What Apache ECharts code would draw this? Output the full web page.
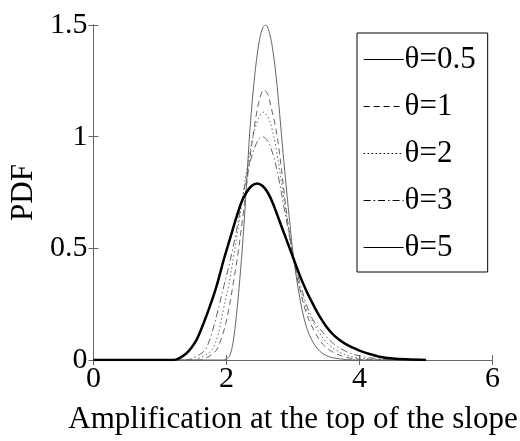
<!DOCTYPE html>
<html>
<head>
<meta charset="utf-8">
<script src="https://cdn.jsdelivr.net/npm/echarts@6/dist/echarts.min.js"></script>
<style>
html,body{margin:0;padding:0;background:#fff;}
#c{width:520px;height:441px;}
</style>
</head>
<body>
<div id="c"></div>
<script>
var seriesNames = ['\u03b8=0.5', '\u03b8=1', '\u03b8=2', '\u03b8=3', '\u03b8=5'];
var xTicks = [0, 2, 4, 6];
var yTicks = [0, 0.5, 1, 1.5];

var x05 = [0.5, 1.95, 2.0, 2.05, 2.1, 2.15, 2.2, 2.25, 2.3, 2.35, 2.4, 2.45, 2.5, 2.55, 2.59, 2.65, 2.7, 2.75, 2.8, 2.85, 2.9, 2.95, 3.0, 3.1, 3.2, 3.3, 3.4, 3.5, 3.6, 3.8, 4.0, 5.0];
var y05 = [0, 0, 0.005, 0.02, 0.08, 0.2, 0.36, 0.55, 0.78, 1.02, 1.2, 1.34, 1.44, 1.49, 1.5, 1.46, 1.38, 1.26, 1.1, 0.93, 0.77, 0.62, 0.48, 0.28, 0.15, 0.08, 0.04, 0.02, 0.01, 0.002, 0, 0];

var x1 = [0.5, 1.6, 1.7, 1.8, 1.86, 1.95, 2.03, 2.1, 2.16, 2.25, 2.35, 2.45, 2.5, 2.56, 2.62, 2.68, 2.74, 2.8, 2.89, 2.95, 3.0, 3.1, 3.2, 3.32, 3.45, 3.6, 3.8, 4.0, 4.3, 5.0];
var y1 = [0, 0, 0.01, 0.03, 0.05, 0.12, 0.22, 0.34, 0.45, 0.65, 0.9, 1.1, 1.17, 1.21, 1.19, 1.12, 1.04, 0.92, 0.69, 0.56, 0.46, 0.32, 0.21, 0.13, 0.07, 0.035, 0.012, 0.004, 0, 0];

var x2 = [0.5, 1.5, 1.6, 1.7, 1.79, 1.87, 1.95, 2.03, 2.1, 2.2, 2.3, 2.4, 2.48, 2.55, 2.62, 2.68, 2.75, 2.88, 2.95, 3.0, 3.1, 3.2, 3.3, 3.38, 3.5, 3.7, 3.9, 4.2, 4.5, 5.0];
var y2 = [0, 0, 0.01, 0.025, 0.05, 0.11, 0.22, 0.33, 0.45, 0.64, 0.84, 1.0, 1.08, 1.11, 1.09, 1.04, 0.94, 0.69, 0.56, 0.47, 0.33, 0.23, 0.17, 0.13, 0.08, 0.035, 0.014, 0.004, 0, 0];

var x3 = [0.5, 1.4, 1.5, 1.6, 1.69, 1.78, 1.87, 1.96, 2.06, 2.15, 2.25, 2.35, 2.45, 2.54, 2.62, 2.7, 2.78, 2.86, 2.93, 3.0, 3.1, 3.2, 3.3, 3.43, 3.6, 3.8, 4.0, 4.3, 4.7, 5.0];
var y3 = [0, 0, 0.01, 0.025, 0.05, 0.12, 0.22, 0.33, 0.45, 0.58, 0.74, 0.88, 0.97, 1.0, 0.98, 0.92, 0.82, 0.69, 0.58, 0.47, 0.35, 0.25, 0.18, 0.13, 0.075, 0.038, 0.018, 0.005, 0, 0];

var x5 = [0, 1.2, 1.3, 1.4, 1.46, 1.55, 1.65, 1.75, 1.85, 1.96, 2.06, 2.15, 2.23, 2.3, 2.38, 2.46, 2.54, 2.62, 2.7, 2.8, 2.9, 3.0, 3.1, 3.2, 3.3, 3.4, 3.5, 3.6, 3.7, 3.8, 3.9, 4.0, 4.15, 4.3, 4.5, 4.7, 5.0];
var y5 = [0, 0, 0.01, 0.03, 0.05, 0.09, 0.16, 0.24, 0.33, 0.45, 0.55, 0.64, 0.71, 0.75, 0.78, 0.79, 0.78, 0.75, 0.70, 0.62, 0.54, 0.46, 0.38, 0.31, 0.25, 0.195, 0.15, 0.115, 0.09, 0.07, 0.055, 0.042, 0.027, 0.015, 0.007, 0.003, 0];

function pairs(xs, ys) { return xs.map(function (x, i) { return [x, ys[i]]; }); }

var FONT = "'Liberation Serif', 'Times New Roman', serif";
var chart = echarts.init(document.getElementById('c'), null, {renderer: 'canvas'});

var styles = [
  {color: '#666', width: 1, type: 'solid'},
  {color: '#666', width: 1, type: [6, 4]},
  {color: '#666', width: 1, type: [1.5, 2.5]},
  {color: '#666', width: 1, type: [7, 3, 1.5, 3]},
  {color: '#000', width: 2.5, type: 'solid'}
];
var datas = [pairs(x05, y05), pairs(x1, y1), pairs(x2, y2), pairs(x3, y3), pairs(x5, y5)];

var series = seriesNames.map(function (n, i) {
  return {
    name: n, type: 'line', data: datas[i], showSymbol: false, symbol: 'none',
    smooth: 0.35, animation: false,
    lineStyle: styles[i], itemStyle: {color: styles[i].color}
  };
});

var axisCommon = {
  axisLine: {show: true, lineStyle: {color: '#666', width: 1}},
  axisTick: {show: true, inside: true, length: 5, lineStyle: {color: '#666'}},
  splitLine: {show: false}
};

chart.setOption({
  animation: false,
  backgroundColor: '#fff',
  grid: {left: 92, top: 25, right: 25, bottom: 81, containLabel: false},
  xAxis: [
    Object.assign({
      type: 'value', min: xTicks[0], max: xTicks[xTicks.length - 1], interval: 2, position: 'bottom',
      axisLabel: {fontFamily: FONT, fontSize: 30, color: '#000', margin: 4},
      name: 'Amplification at the top of the slope', nameLocation: 'middle', nameGap: 44,
      nameTextStyle: {fontFamily: FONT, fontSize: 31, color: '#000'}
    }, axisCommon),
    Object.assign({
      type: 'value', min: xTicks[0], max: xTicks[xTicks.length - 1], interval: 2, position: 'top',
      axisLabel: {show: false}
    }, axisCommon)
  ],
  yAxis: [
    Object.assign({
      type: 'value', min: yTicks[0], max: yTicks[yTicks.length - 1], interval: 0.5, position: 'left',
      axisLabel: {fontFamily: FONT, fontSize: 30, color: '#000', margin: 6},
      name: 'PDF', nameLocation: 'middle', nameGap: 54, nameRotate: 90,
      nameTextStyle: {fontFamily: FONT, fontSize: 31, color: '#000'}
    }, axisCommon),
    Object.assign({
      type: 'value', min: yTicks[0], max: yTicks[yTicks.length - 1], interval: 0.5, position: 'right',
      axisLabel: {show: false}
    }, axisCommon)
  ],
  legend: {
    orient: 'vertical', left: 357, top: 33,
    backgroundColor: '#fff', borderColor: '#000', borderWidth: 1,
    padding: [11, 12, 9, 6], itemGap: 16, itemWidth: 40, itemHeight: 14,
    textStyle: {fontFamily: FONT, fontSize: 31, color: '#000', padding: [0, 0, 0, -4], lineHeight: 30},
    itemStyle: {opacity: 0},
    data: seriesNames.map(function (n, i) {
      return {name: n, itemStyle: {opacity: 0}, lineStyle: {color: '#000', width: i === 4 ? 1.2 : 1, opacity: 1}};
    })
  },
  series: series
});
</script>
</body>
</html>
